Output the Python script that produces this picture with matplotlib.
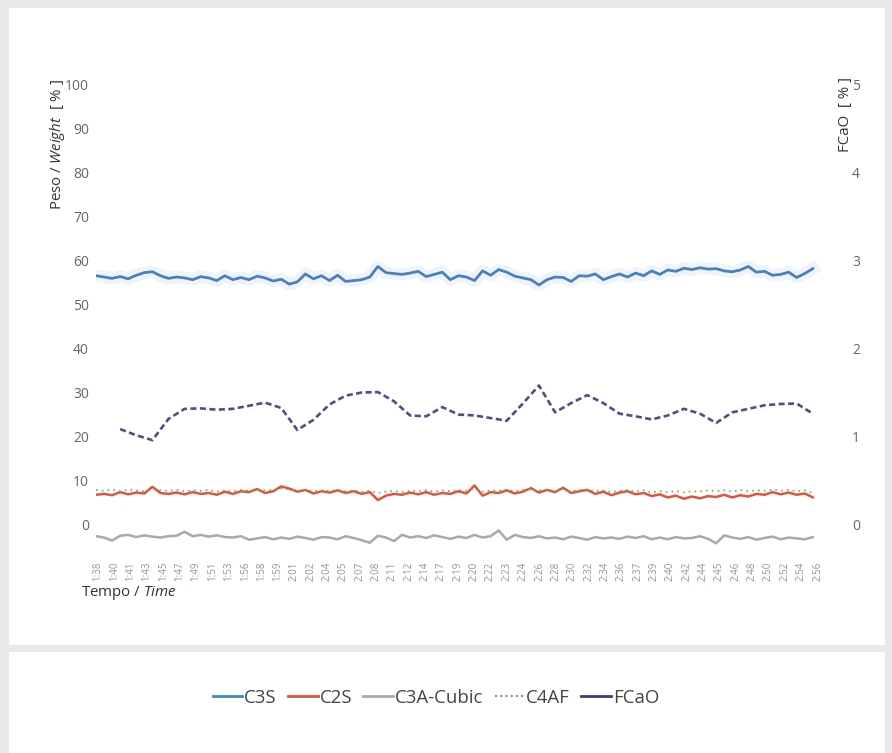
import matplotlib
matplotlib.use('Agg')
import matplotlib.pyplot as plt  # plotting library
from matplotlib.lines import Line2D
from matplotlib.patches import Rectangle
import numpy as np

plt.rcParams['font.family'] = ['Open Sans', 'DejaVu Sans']
plt.rcParams['mathtext.fontset'] = 'custom'
plt.rcParams['mathtext.rm'] = 'Open Sans'
plt.rcParams['mathtext.it'] = 'Open Sans:italic'

# phase weights [%], one value per sample
c3s = [56.5, 56.2, 55.9, 56.3, 55.8, 56.6, 57.2, 57.4, 56.5, 55.9,
       56.2, 56.0, 55.6, 56.3, 56.0, 55.4, 56.5, 55.6, 56.1, 55.6,
       56.4, 56.0, 55.3, 55.7, 54.6, 55.1, 56.9, 55.8, 56.5, 55.4,
       56.6, 55.2, 55.4, 55.6, 56.2, 58.6, 57.2, 57.0, 56.8, 57.1,
       57.5, 56.3, 56.8, 57.3, 55.6, 56.5, 56.2, 55.4, 57.6, 56.6,
       57.9, 57.3, 56.4, 56.0, 55.6, 54.4, 55.6, 56.2, 56.1, 55.2,
       56.5, 56.4, 56.9, 55.6, 56.3, 56.9, 56.2, 57.1, 56.5, 57.6,
       56.8, 57.8, 57.5, 58.2, 57.9, 58.3, 58.0, 58.1, 57.6, 57.4,
       57.8, 58.6, 57.3, 57.5, 56.6, 56.8, 57.3, 56.1, 57.0, 58.1]

c2s = [6.8, 7.0, 6.7, 7.4, 6.9, 7.3, 7.1, 8.6, 7.2, 7.0,
       7.3, 6.9, 7.4, 7.0, 7.2, 6.8, 7.5, 7.0, 7.6, 7.4,
       8.1, 7.2, 7.6, 8.7, 8.2, 7.5, 7.9, 7.1, 7.6, 7.3,
       7.8, 7.2, 7.6, 7.0, 7.4, 5.6, 6.6, 7.0, 6.8, 7.3,
       6.9, 7.4, 6.8, 7.2, 7.0, 7.6, 7.1, 8.9, 6.6, 7.4,
       7.2, 7.8, 7.1, 7.5, 8.3, 7.3, 7.9, 7.4, 8.4, 7.2,
       7.6, 7.9, 7.0, 7.5, 6.7, 7.3, 7.6, 6.9, 7.2, 6.5,
       6.9, 6.2, 6.6, 5.9, 6.4, 6.0, 6.5, 6.3, 6.8, 6.2,
       6.7, 6.4, 7.0, 6.8, 7.4, 6.9, 7.3, 6.8, 7.1, 6.2]

c4af = [7.9, 7.7, 8.0, 7.6, 7.9, 7.8, 7.6, 8.1, 7.8, 7.7,
        7.9, 7.6, 7.8, 7.7, 7.9, 7.5, 7.8, 7.6, 7.9, 7.7,
        8.0, 7.8, 7.9, 8.2, 8.0, 7.7, 7.9, 7.6, 7.8, 7.7,
        7.9, 7.6, 7.8, 7.5, 7.7, 7.2, 7.5, 7.7, 7.4, 7.8,
        7.6, 7.9, 7.5, 7.8, 7.6, 7.9, 7.7, 8.2, 7.5, 7.8,
        7.7, 8.0, 7.6, 7.9, 8.1, 7.8, 8.0, 7.7, 8.1, 7.6,
        7.9, 8.0, 7.6, 7.8, 7.4, 7.7, 7.9, 7.5, 7.8, 7.3,
        7.6, 7.4, 7.7, 7.3, 7.6, 7.5, 7.8, 7.6, 7.8, 7.5,
        7.9, 7.6, 7.8, 7.7, 8.0, 7.7, 7.9, 7.6, 7.8, 7.2]

c3a_cubic = [-2.6, -2.9, -3.6, -2.5, -2.3, -2.8, -2.4, -2.7, -2.9, -2.6,
             -2.5, -1.6, -2.6, -2.3, -2.7, -2.4, -2.8, -2.9, -2.6, -3.4,
             -3.1, -2.8, -3.3, -2.9, -3.2, -2.7, -3.0, -3.4, -2.8, -2.9,
             -3.3, -2.6, -3.0, -3.5, -4.1, -2.5, -2.9, -3.7, -2.3, -2.9,
             -2.6, -3.0, -2.4, -2.8, -3.2, -2.7, -3.0, -2.3, -2.9, -2.6,
             -1.3, -3.4, -2.3, -2.8, -3.0, -2.6, -3.1, -2.9, -3.3, -2.7,
             -3.0, -3.4, -2.8, -3.1, -2.9, -3.2, -2.7, -3.0, -2.6, -3.3,
             -2.9, -3.3, -2.8, -3.1, -3.0, -2.6, -3.2, -4.2, -2.4, -2.9,
             -3.2, -2.8, -3.4, -3.0, -2.7, -3.3, -2.9, -3.1, -3.3, -2.8]

# free lime [%] on the right axis, sampled every second point from index 3
fcao = [1.085, 1.015, 0.96, 1.2, 1.315, 1.32, 1.305, 1.315, 1.35, 1.385,
        1.325, 1.075, 1.19, 1.365, 1.465, 1.5, 1.505, 1.4, 1.24, 1.23,
        1.335, 1.25, 1.24, 1.21, 1.18, 1.375, 1.58, 1.275, 1.38, 1.47,
        1.38, 1.26, 1.23, 1.195, 1.24, 1.315, 1.26, 1.155, 1.275, 1.315,
        1.355, 1.37, 1.375, 1.26]

time_labels = ['1:38', '1:40', '1:41', '1:43', '1:45', '1:47', '1:49', '1:51',
               '1:53', '1:56', '1:58', '1:59', '2:01', '2:02', '2:04', '2:05',
               '2:07', '2:08', '2:11', '2:12', '2:14', '2:17', '2:19', '2:20',
               '2:22', '2:23', '2:24', '2:26', '2:28', '2:30', '2:32', '2:34',
               '2:36', '2:37', '2:39', '2:40', '2:42', '2:44', '2:45', '2:46',
               '2:48', '2:50', '2:52', '2:54', '2:56']

x = np.arange(len(c3s))
x_fcao = 3 + 2 * np.arange(len(fcao))

W, H = 892, 753
fig = plt.figure(figsize=(W / 100, H / 100), dpi=100)
fig.patch.set_facecolor('#e8e9eb')

# white card for the plot and one for the legend (behind the axes)
fig.patches.append(Rectangle((9 / W, 1 - 645 / H), 876 / W, 637 / H,
                             transform=fig.transFigure, facecolor='white',
                             edgecolor='none', zorder=-5))
fig.patches.append(Rectangle((9 / W, 0), 876 / W, 101 / H,
                             transform=fig.transFigure, facecolor='white',
                             edgecolor='none', zorder=-5))

ax = fig.add_axes([96 / W, 1 - 560 / H, 749 / W, 476 / H])
ax.set_facecolor('none')
ax.set_xlim(0, 93)
ax.set_ylim(-8, 100)

col_c3s = '#4a80c0'
col_c2s = '#e0553a'
col_c3a = '#a9a9a9'
col_c4af = '#6bab5b'
col_fcao = '#574b86'

ax.plot(x, c3a_cubic, color=col_c3a, lw=1.8, zorder=2)
ax.plot(x, c2s, color=col_c2s, lw=1.8, zorder=3)
ax.plot(x, c4af, color=col_c4af, lw=1.2, ls=(0, (1, 2.5)), zorder=4)
# soft halo around C3S
ax.plot(x, c3s, color='#c9dcf0', lw=9, alpha=0.3, zorder=2)
ax.plot(x, c3s, color=col_c3s, lw=2, zorder=5)

ax.set_yticks(range(0, 101, 10))
ax.tick_params(axis='y', length=0, pad=5, labelsize=10, labelcolor='#666666')
ax.set_xticks(np.linspace(0.25, 89.6, len(time_labels)))
ax.set_xticklabels(time_labels, rotation=90, fontsize=7, color='#8a95a5')
ax.tick_params(axis='x', length=0, pad=1)
for s in ax.spines.values():
    s.set_visible(False)

ax2 = ax.twinx()
ax2.set_ylim(-0.4, 5)
ax2.plot(x_fcao, fcao, color=col_fcao, lw=1.9, ls=(0, (2.3, 1.3)), zorder=6)
ax2.set_yticks(range(0, 6))
ax2.tick_params(axis='y', length=0, pad=5, labelsize=10, labelcolor='#666666')
for s in ax2.spines.values():
    s.set_visible(False)

fig.text(58 / W, 1 - 79 / H, r'Peso / $\mathit{Weight}$  [ % ]', rotation=90,
         ha='center', va='top', fontsize=10.8, color='#333333')
fig.text(845 / W, 1 - 77 / H, 'FCaO  [ % ]', rotation=90,
         ha='center', va='top', fontsize=10.8, color='#333333')
fig.text(81 / W, 1 - 593 / H, r'Tempo / $\mathit{Time}$',
         ha='left', va='center', fontsize=10.8, color='#333333')

handles = [
    Line2D([], [], color='#3b8bc2', lw=2),
    Line2D([], [], color=col_c2s, lw=2),
    Line2D([], [], color=col_c3a, lw=2),
    Line2D([], [], color=col_c4af, lw=1.5, ls=(0, (1, 1.5))),
    Line2D([], [], color='#3d3a7e', lw=2),
]
fig.legend(handles, ['C3S', 'C2S', 'C3A-Cubic', 'C4AF', 'FCaO'],
           loc='center', bbox_to_anchor=(436 / W, 1 - 698 / H), ncol=5,
           frameon=False, fontsize=13.4, labelcolor='#444444',
           handlelength=1.6, handletextpad=0.1, columnspacing=0.6)

fig.savefig('out.png', dpi=100, facecolor=fig.get_facecolor())
